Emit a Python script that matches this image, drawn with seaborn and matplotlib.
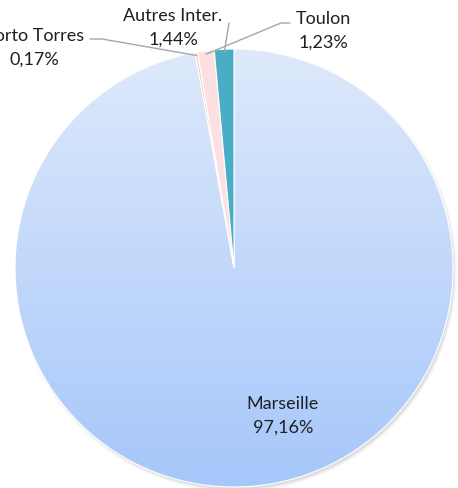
import matplotlib
matplotlib.use("Agg")
import matplotlib.pyplot as plt
import seaborn as sns
import numpy as np
from matplotlib.patches import Circle

# Data (clockwise from 12 o'clock)
ports = ["Marseille", "Porto Torres", "Toulon", "Autres Inter."]
shares = [97.16, 0.17, 1.23, 1.44]
colors = ["#c4d8fb", "#f6c9a8", "#fde0e1", "#4bacc6"]

# label placement in pixel coords (from top-left)
label_pos = {
    "Marseille": (283, 416),
    "Porto Torres": (34, 48),
    "Toulon": (323, 31),
    "Autres Inter.": (173, 28),
}
# leader line start points (pixels)
leader_start = {
    "Porto Torres": [(90, 39), (102, 39)],
    "Toulon": [(290, 23), (281, 23)],
    "Autres Inter.": [(229, 23)],
}

W, H = 458, 488
cx, cy, r = 234, 268, 219

sns.set_theme(style="white")
plt.rcParams["font.family"] = ["Lato", "DejaVu Sans"]

fig = plt.figure(figsize=(W / 100, H / 100), dpi=100)
ax = fig.add_axes([0, 0, 1, 1])


def px(x, y):
    return x, H - y


# soft shadow
for k, a in zip([5, 4, 3, 2], [0.04, 0.06, 0.08, 0.10]):
    ax.add_patch(Circle(px(cx + 2, cy + 3), r + k - 3, color="#7f7f7f", alpha=a, lw=0, zorder=0))

wedges, _ = ax.pie(shares, colors=colors, startangle=90, counterclock=False,
                   center=px(cx, cy), radius=r, frame=True,
                   wedgeprops=dict(edgecolor="white", linewidth=0.8))
ax.set_xlim(0, W)
ax.set_ylim(0, H)
ax.axis("off")

# gradient fill for the big slice
grad = np.linspace(0, 1, 256).reshape(-1, 1)
top = np.array([222, 233, 251]) / 255
bot = np.array([166, 199, 250]) / 255
img = top + (bot - top) * grad[:, :, None] * np.ones((1, 1, 3))
im = ax.imshow(img, extent=(cx - r, cx + r, H - cy - r, H - cy + r), origin="upper",
               aspect="auto", zorder=1)
im.set_clip_path(wedges[0])
wedges[0].set_zorder(2)
wedges[0].set_facecolor("none")
for w in wedges[1:]:
    w.set_zorder(3)

for w, name, val in zip(wedges, ports, shares):
    txt = name + "\n" + f"{val:.2f}".replace(".", ",") + "%"
    x, y = label_pos[name]
    ax.text(*px(x, y), txt, ha="center", va="center", fontsize=13,
            color="#1f1f1f", linespacing=1.55, zorder=5)
    if name in leader_start:
        theta = np.deg2rad((w.theta1 + w.theta2) / 2)
        ex = w.center[0] + 0.985 * r * np.cos(theta)
        ey = w.center[1] + 0.985 * r * np.sin(theta)
        pts = [px(*p) for p in leader_start[name]] + [(ex, ey)]
        ax.plot([p[0] for p in pts], [p[1] for p in pts], color="#a6a6a6", lw=1, zorder=4)

fig.savefig("out.png", dpi=100)
